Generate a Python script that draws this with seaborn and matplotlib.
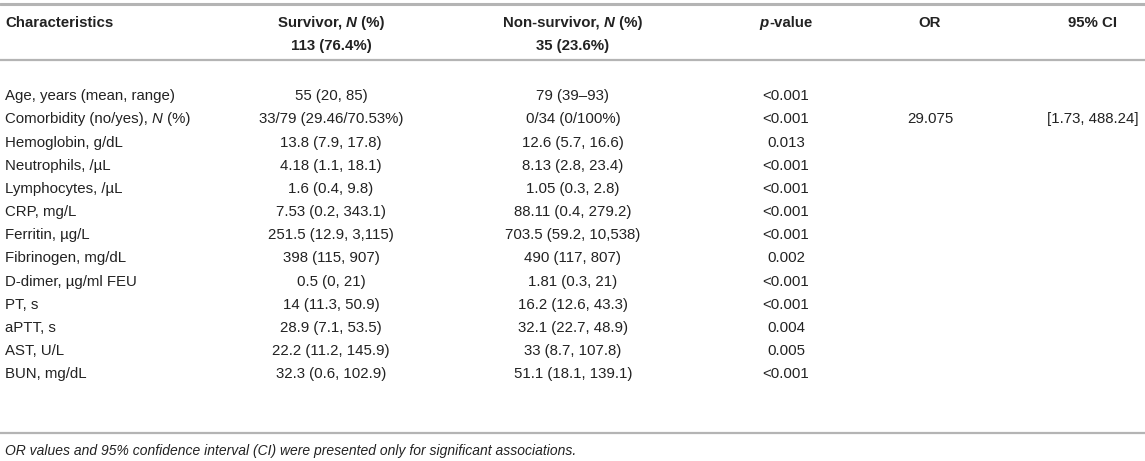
import matplotlib
matplotlib.use('Agg')
import matplotlib.pyplot as plt
import seaborn as sns

# table content
characteristics = ['Age, years (mean, range)', 'Comorbidity (no/yes), |N| (%)', 'Hemoglobin, g/dL',
                   'Neutrophils, /µL', 'Lymphocytes, /µL', 'CRP, mg/L', 'Ferritin, µg/L',
                   'Fibrinogen, mg/dL', 'D-dimer, µg/ml FEU', 'PT, s', 'aPTT, s', 'AST, U/L', 'BUN, mg/dL']
survivor = ['55 (20, 85)', '33/79 (29.46/70.53%)', '13.8 (7.9, 17.8)', '4.18 (1.1, 18.1)',
            '1.6 (0.4, 9.8)', '7.53 (0.2, 343.1)', '251.5 (12.9, 3,115)', '398 (115, 907)',
            '0.5 (0, 21)', '14 (11.3, 50.9)', '28.9 (7.1, 53.5)', '22.2 (11.2, 145.9)', '32.3 (0.6, 102.9)']
non_survivor = ['79 (39–93)', '0/34 (0/100%)', '12.6 (5.7, 16.6)', '8.13 (2.8, 23.4)',
                '1.05 (0.3, 2.8)', '88.11 (0.4, 279.2)', '703.5 (59.2, 10,538)', '490 (117, 807)',
                '1.81 (0.3, 21)', '16.2 (12.6, 43.3)', '32.1 (22.7, 48.9)', '33 (8.7, 107.8)', '51.1 (18.1, 139.1)']
p_values = ['<0.001', '<0.001', '0.013', '<0.001', '<0.001', '<0.001', '<0.001',
            '0.002', '<0.001', '<0.001', '0.004', '0.005', '<0.001']
odds_ratio = ['', '29.075', '', '', '', '', '', '', '', '', '', '', '']
ci_95 = ['', '[1.73, 488.24]', '', '', '', '', '', '', '', '', '', '', '']

headers = ['Characteristics', 'Survivor, |N| (%)', 'Non-survivor, |N| (%)', '|p|-value', 'OR', '95% CI']
header_counts = ['', '113 (76.4%)', '35 (23.6%)', '', '', '']
footnote = 'OR values and 95% confidence interval (CI) were presented only for significant associations.'

sns.set_theme(style='white')
plt.rcParams['font.family'] = ['Liberation Sans', 'DejaVu Sans']

TXT = '#222222'
LINE = '#b4b4b4'
FS = 10.8

fig = plt.figure(figsize=(11.45, 4.61), dpi=100)
ax = fig.add_axes([0, 0, 1, 1])
ax.set_xlim(0, 1145)
ax.set_ylim(461, 0)
ax.axis('off')
fig.canvas.draw()
renderer = fig.canvas.get_renderer()


def rich(x, y, s, ha='center', weight='normal'):
    """draw text where parts between |...| are italic; y is the row middle"""
    parts = s.split('|')
    objs = []
    for i, p in enumerate(parts):
        if not p:
            continue
        t = ax.text(0, y + 5.3, p, fontsize=FS, color=TXT, weight=weight,
                    style='italic' if i % 2 else 'normal', ha='left', va='baseline')
        objs.append(t)
    widths = [t.get_window_extent(renderer).width for t in objs]
    total = sum(widths)
    x0 = {'left': x, 'center': x - total / 2, 'right': x - total}[ha]
    for t, w in zip(objs, widths):
        t.set_x(x0)
        x0 += w


col_x = [5, 331, 573, 786, 930, 1093]
col_ha = ['left', 'center', 'center', 'center', 'center', 'center']

for x, ha, h, c in zip(col_x, col_ha, headers, header_counts):
    rich(x, 21.5, h, ha=ha, weight='bold')
    if c:
        rich(x, 45, c, ha=ha, weight='bold')

columns = [characteristics, survivor, non_survivor, p_values, odds_ratio, ci_95]
row_y0, row_dy = 95, 23.15
for x, ha, col in zip(col_x, col_ha, columns):
    for i, val in enumerate(col):
        if val:
            rich(x, row_y0 + i * row_dy, val, ha=ha)

ax.axhline(4, color=LINE, lw=2.2)
ax.axhline(60, color=LINE, lw=1.6)
ax.axhline(433, color=LINE, lw=1.6)

ax.text(5, 455, footnote, fontsize=10.0, color=TXT, style='italic', ha='left', va='baseline')

fig.savefig('out.png', dpi=100)
